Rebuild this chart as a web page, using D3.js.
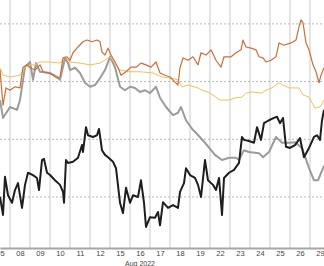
<!DOCTYPE html>
<html>
<head>
<meta charset="utf-8">
<script src="https://cdn.jsdelivr.net/npm/d3@7"></script>
<style>
  body { margin: 0; background: #fff; }
  svg { display: block; font-family: "Liberation Sans", "DejaVu Sans", sans-serif; }
</style>
</head>
<body>
<svg id="chart"></svg>
<script>
// trading days shown on the axis (Aug 2022)
const days = ["05", "08", "09", "10", "11", "12", "15", "16", "17", "18", "19", "22", "23", "24", "25", "26", "29"];
const monthLabel = "Aug 2022";
const gridValues = [0, 10, 20, 30];

// [trading-day index, value] intraday readings
const blackSeries = [
    [0, 0], [0.15, -3.1], [0.25, 3.5], [0.4, 0.3], [0.6, -1.0], [0.75, 1.2], [0.9, 2.4], [1.1, -1.9],
    [1.25, 2.1], [1.4, 4.2], [1.65, 3.8], [1.85, 3.3], [1.95, 1.2], [2.1, 6.4], [2.2, 6.6], [2.35, 4.2],
    [2.5, 3.8], [2.75, 2.9], [3.0, 2.1], [3.15, 0.9], [3.2, -1.0], [3.3, 6.4], [3.4, 5.9], [3.65, 6.1],
    [3.9, 6.8], [4.1, 9.0], [4.15, 7.8], [4.3, 12.1], [4.4, 10.7], [4.65, 10.4], [4.85, 10.7], [4.95, 11.8],
    [5.1, 8.1], [5.25, 7.3], [5.4, 6.9], [5.65, 6.1], [5.8, 5.0], [6.0, -1.0], [6.15, -2.8], [6.3, 1.6],
    [6.5, -1.0], [6.65, 0.3], [6.9, 0], [7.05, 2.9], [7.2, -1.0], [7.3, -5.2], [7.5, -3.5], [7.75, -3.6],
    [7.9, -2.6], [8.0, -4.9], [8.15, -0.9], [8.4, -1.9], [8.65, -1.4], [8.9, -1.9], [9.0, 0.9], [9.2, 2.4],
    [9.3, 5.0], [9.5, 3.8], [9.75, 3.3], [9.9, 2.1], [10.05, 0], [10.25, 6.4], [10.4, 2.9], [10.65, 2.1],
    [10.8, 1.2], [10.95, 3.3], [11.1, -3.1], [11.2, 3.3], [11.45, 4.2], [11.7, 4.7], [11.95, 5.9], [12.1, 10.4],
    [12.2, 9.9], [12.45, 9.7], [12.7, 9.4], [12.85, 12.1], [13.05, 9.9], [13.2, 12.8], [13.45, 13.3], [13.7, 13.7],
    [13.85, 13.9], [14.0, 12.8], [14.15, 13.7], [14.3, 8.7], [14.5, 8.5], [14.75, 9.0], [15.0, 10.2], [15.2, 6.9],
    [15.45, 8.5], [15.7, 10.4], [15.85, 10.7], [16.0, 9.9], [16.1, 13.3], [16.2, 15.1]
];

const greySeries = [
    [0, 16.8], [0.15, 13.7], [0.5, 15.6], [0.85, 15.1], [1.0, 16.8], [1.25, 22.5], [1.5, 23.4], [1.65, 20.3],
    [1.8, 23.2], [2.0, 21.7], [2.5, 21.5], [2.85, 20.8], [3.0, 20.3], [3.25, 24.1], [3.4, 23.2], [3.5, 22.0],
    [3.75, 22.4], [4.0, 21.5], [4.25, 19.8], [4.5, 19.1], [4.75, 19.4], [5.0, 20.6], [5.25, 22.0], [5.5, 24.3],
    [5.75, 22.5], [6.0, 19.1], [6.25, 18.5], [6.5, 19.1], [6.75, 18.9], [7.0, 18.2], [7.25, 18.5], [7.5, 18.0],
    [7.8, 19.1], [8.0, 17.2], [8.3, 15.6], [8.65, 14.2], [8.9, 14.6], [9.05, 15.6], [9.3, 13.3], [9.65, 11.6],
    [9.75, 11.3], [10.25, 9.4], [10.75, 7.3], [11.1, 6.4], [11.45, 6.8], [11.8, 6.8], [11.95, 6.4], [12.15, 7.8],
    [12.2, 8.1], [12.45, 7.8], [12.95, 7.6], [13.15, 6.9], [13.45, 7.8], [13.8, 10.4], [14.1, 9.4], [14.45, 9.4],
    [14.75, 9.5], [15.1, 8.5], [15.45, 5.0], [15.7, 2.9], [15.9, 2.9], [16.2, 5.4]
];

const orangeSeries = [
    [0, 22.0], [0.15, 15.9], [0.3, 18.9], [0.5, 18.5], [0.75, 19.1], [1.0, 18.9], [1.15, 22.5], [1.35, 22.9],
    [1.5, 22.4], [1.75, 22.0], [2.0, 22.9], [2.15, 21.7], [2.4, 21.5], [2.65, 21.1], [2.85, 20.6], [3.0, 20.8],
    [3.15, 24.1], [3.35, 24.3], [3.5, 23.7], [3.65, 25.0], [3.9, 26.0], [4.15, 26.9], [4.35, 27.2], [4.6, 26.9],
    [4.85, 27.2], [5.0, 26.9], [5.1, 25.1], [5.25, 24.6], [5.4, 25.8], [5.55, 24.6], [5.75, 23.4], [5.9, 22.4],
    [6.05, 21.1], [6.3, 21.7], [6.55, 22.5], [6.8, 22.5], [7.05, 23.2], [7.3, 22.9], [7.55, 22.5], [7.8, 23.4],
    [8.0, 21.5], [8.25, 21.1], [8.5, 20.8], [8.75, 19.9], [8.9, 19.4], [9.0, 22.4], [9.15, 24.1], [9.4, 23.7],
    [9.65, 24.3], [9.9, 22.9], [10.05, 25.0], [10.3, 24.6], [10.55, 25.5], [10.8, 23.7], [11.05, 22.5], [11.2, 24.3],
    [11.55, 24.3], [11.8, 25.0], [12.05, 25.5], [12.15, 27.2], [12.3, 26.0], [12.55, 25.8], [12.8, 25.5], [12.95, 24.3],
    [13.15, 24.1], [13.3, 23.4], [13.55, 23.7], [13.8, 24.3], [13.95, 26.7], [14.2, 26.3], [14.55, 26.7], [14.8, 27.2],
    [14.95, 29.5], [15.05, 30.7], [15.15, 30.2], [15.3, 26.7], [15.45, 25.5], [15.65, 22.9], [15.8, 21.7], [15.95, 19.8],
    [16.05, 21.1], [16.2, 22.4]
];

const lightSeries = [
    [0, 22.4], [0.15, 21.1], [0.5, 20.8], [1.0, 21.1], [1.25, 22.5], [1.5, 22.9], [1.75, 22.9], [2.0, 23.4],
    [2.5, 23.4], [3.0, 23.2], [3.25, 24.3], [3.5, 23.4], [4.0, 23.2], [4.5, 22.9], [5.0, 23.2], [5.5, 24.3],
    [6.0, 22.0], [6.5, 21.7], [7.0, 21.7], [7.65, 21.5], [8.1, 20.8], [8.55, 20.6], [8.9, 20.3], [9.1, 19.1],
    [9.4, 19.4], [9.9, 18.9], [10.1, 18.5], [10.4, 18.2], [10.8, 17.3], [11.0, 16.8], [11.45, 16.8], [11.8, 17.2],
    [12.1, 17.3], [12.3, 18.0], [12.6, 18.2], [13.1, 18.0], [13.3, 18.5], [13.6, 18.9], [13.95, 19.8], [14.15, 19.4],
    [14.45, 18.9], [14.95, 18.9], [15.15, 17.7], [15.45, 17.3], [15.75, 15.4], [16.0, 15.6], [16.2, 16.8]
];

const width = 324, height = 266;
const plotBottom = 248;

const svg = d3.select("#chart").attr("width", width).attr("height", height);

const x = d3.scaleLinear().domain([0, 16.2]).range([0, 324]);
const y = d3.scaleLinear().domain([-8.84, 34.14]).range([plotBottom, 0]);

// vertical grid between trading days
svg.append("g")
    .selectAll("line")
    .data(d3.range(days.length - 1))
    .join("line")
    .attr("x1", d => x(d + 0.5)).attr("x2", d => x(d + 0.5))
    .attr("y1", 0).attr("y2", plotBottom)
    .attr("stroke", "#d3d3d3")
    .attr("stroke-width", 1.2);

// dashed horizontal grid
svg.append("g")
    .selectAll("line")
    .data(gridValues)
    .join("line")
    .attr("x1", 0).attr("x2", width)
    .attr("y1", d => y(d)).attr("y2", d => y(d))
    .attr("stroke", "#b8b8b8")
    .attr("stroke-width", 1)
    .attr("stroke-dasharray", "2,2");

const line = d3.line().x(d => x(d[0])).y(d => y(d[1]));

const series = [
    { data: greySeries, color: "#9b9b9b", w: 2 },
    { data: lightSeries, color: "#f0c060", w: 1 },
    { data: orangeSeries, color: "#cc6e38", w: 1.2 },
    { data: blackSeries, color: "#1e1e1e", w: 2 }
];

svg.append("g")
    .selectAll("path")
    .data(series)
    .join("path")
    .attr("d", d => line(d.data))
    .attr("fill", "none")
    .attr("stroke", d => d.color)
    .attr("stroke-width", d => d.w)
    .attr("stroke-linejoin", "round");

// x axis
const xAxis = svg.append("g")
    .attr("transform", `translate(0, ${plotBottom})`)
    .call(d3.axisBottom(x)
        .tickValues(d3.range(days.length))
        .tickFormat(i => days[i])
        .tickSize(0)
        .tickPadding(3));

xAxis.select(".domain").attr("stroke", "#a6a6a6").attr("stroke-width", 2);
xAxis.selectAll("text").attr("font-size", 7.5).attr("fill", "#444");

svg.append("text")
    .attr("x", x(7))
    .attr("y", 265.5)
    .attr("text-anchor", "middle")
    .attr("font-size", 7)
    .attr("fill", "#444")
    .text(monthLabel);
</script>
</body>
</html>
